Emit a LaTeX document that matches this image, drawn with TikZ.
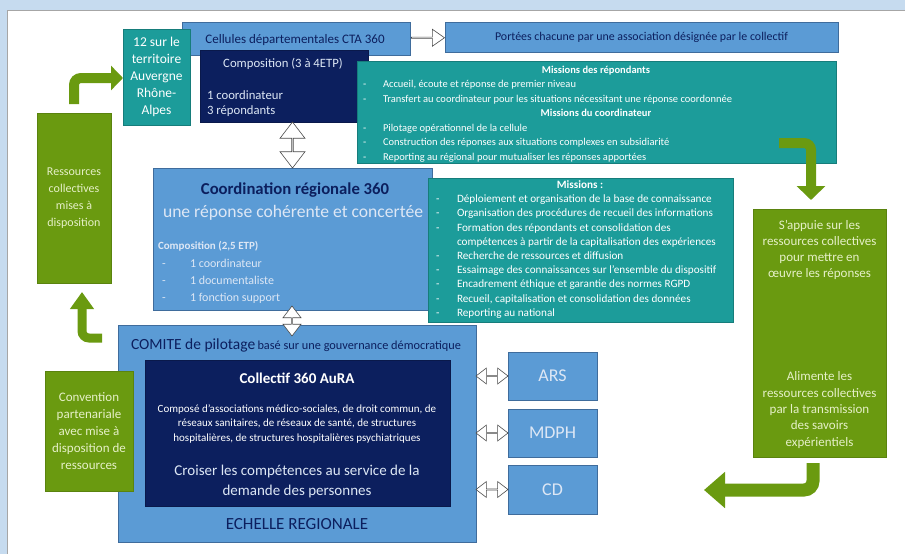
\documentclass[tikz,border=0pt]{standalone}
\usepackage{fontspec}
\setmainfont{Carlito}
\usetikzlibrary{shapes.arrows,arrows.meta,calc}
\definecolor{bluebox}{HTML}{5B9BD5}
\definecolor{blueedge}{HTML}{3F6C9C}
\definecolor{navy}{HTML}{0C1F5E}
\definecolor{teal360}{HTML}{1C9C9A}
\definecolor{green360}{HTML}{6A9A10}
\definecolor{greentxt}{HTML}{E6F0C8}
\definecolor{bluetxt}{HTML}{DDE7F5}
\definecolor{bandblue}{HTML}{C6DBEF}
\newcommand\fz[2]{\fontsize{#1pt}{#2pt}\selectfont}
\newcommand\dashline[5]{\node[ln] (#1d) at (#2,#4) {-}; \node[ln] (#1) at (#3,#4) {#5};}
\tikzset{
  box/.style={anchor=north west, inner sep=0pt, outer sep=0pt, line width=0.7pt, align=center},
  bluebx/.style={box, fill=bluebox, draw=blueedge},
  navybx/.style={box, fill=navy, draw=navy!80!black},
  tealbx/.style={box, fill=teal360, draw=teal360!80!black, text=white},
  greenbx/.style={box, fill=green360, draw=green360!85!black, text=greentxt},
  ln/.style={anchor=base west, inner sep=0pt, outer sep=0pt, text=white},
  hollow/.style={draw=gray!60!black, fill=white, line width=0.6pt, inner sep=0pt},
  garrow/.style={draw=green360, rounded corners=7pt},
}
\begin{document}
\begin{tikzpicture}[x=1pt,y=-1pt]
\useasboundingbox (0,0) rectangle (905,554);
\fill[bandblue] (0,0) rectangle (905,554);
\fill[white] (7,10) rectangle (905,554);
\draw[gray!70, line width=0.8pt] (7,554) -- (7,10) -- (905,10);

% ---------- top area
\node[bluebx, minimum width=228pt, minimum height=33pt] (cell) at (182,22) {};
\node[ln, anchor=base, text=navy, font=\fz{13}{15}] (cellt) at (295,43) {Cellules départementales CTA 360};
\node[tealbx, minimum width=67pt, minimum height=96pt, font=\fz{13.5}{17}] (n12) at (123,29) {12 sur le\\territoire\\Auvergne\\Rhône-\\Alpes};
\node[navybx, minimum width=168pt, minimum height=72pt] (comp) at (200,50) {};
\node[ln, anchor=base, text=bluetxt, font=\fz{12.7}{15}] (compt) at (283,67) {Composition (3 à 4ETP)};
\node[ln, text=bluetxt, font=\fz{12.7}{15}] (comp1) at (207,99) {1 coordinateur};
\node[ln, text=bluetxt, font=\fz{12.7}{15}] (comp2) at (207,114) {3 répondants};

\node[bluebx, minimum width=393pt, minimum height=30pt, text=navy, font=\fz{11.9}{14}] (portees) at (445,22) {Portées chacune par une association désignée par le collectif};

\node[tealbx, minimum width=479pt, minimum height=102pt] (miss1) at (357,61) {};
\begin{scope}[ln/.append style={font=\fz{10.5}{13}}]
\node[ln, anchor=base] (m1h1) at (596,73) {\bfseries Missions des répondants};
\dashline{m1a}{363}{383}{87.5}{Accueil, écoute et réponse de premier niveau}
\dashline{m1b}{363}{383}{102}{Transfert au coordinateur pour les situations nécessitant une réponse coordonnée}
\node[ln, anchor=base] (m1h2) at (596,116.5) {\bfseries Missions du coordinateur};
\dashline{m1c}{363}{383}{131}{Pilotage opérationnel de la cellule}
\dashline{m1e}{363}{383}{145.5}{Construction des réponses aux situations complexes en subsidiarité}
\dashline{m1f}{363}{383}{160}{Reporting au régional pour mutualiser les réponses apportées}
\end{scope}

% ---------- coordination
\node[bluebx, minimum width=279pt, minimum height=142pt] (coord) at (153,168) {};
\node[ln, anchor=base, text=navy, font=\fz{16.7}{18}\bfseries] (coordt) at (295,194) {Coordination régionale 360};
\node[ln, anchor=base, text=bluetxt, font=\fz{17.6}{19}] (coords) at (293,217) {une réponse cohérente et concertée};
\begin{scope}[ln/.append style={text=bluetxt, font=\fz{12}{14}}]
\node[ln] (coordc) at (158,249) {\fz{11}{13}\bfseries Composition (2,5 ETP)};
\dashline{c1}{162}{190}{267}{1 coordinateur}
\dashline{c2}{162}{190}{284}{1 documentaliste}
\dashline{c3}{162}{190}{301}{1 fonction support}
\end{scope}

\node[tealbx, minimum width=305pt, minimum height=144pt] (miss2) at (428,178) {};
\begin{scope}[ln/.append style={font=\fz{11.2}{13}}]
\node[ln, anchor=base] (m2h) at (580,188) {\bfseries Missions :};
\dashline{m2a}{436}{457}{202}{Déploiement et organisation de la base de connaissance}
\dashline{m2b}{436}{457}{216}{Organisation des procédures de recueil des informations}
\dashline{m2c}{436}{457}{231}{Formation des répondants et consolidation des}
\node[ln] (m2c2) at (457,245) {compétences à partir de la capitalisation des expériences};
\dashline{m2e}{436}{457}{259}{Recherche de ressources et diffusion}
\dashline{m2f}{436}{457}{273}{Essaimage des connaissances sur l’ensemble du dispositif}
\dashline{m2g}{436}{457}{287}{Encadrement éthique et garantie des normes RGPD}
\dashline{m2h}{436}{457}{302}{Recueil, capitalisation et consolidation des données}
\dashline{m2i}{436}{457}{316}{Reporting au national}
\end{scope}

% ---------- comite
\node[bluebx, minimum width=358pt, minimum height=217pt] (comite) at (118,325) {};
\node[ln, anchor=base, text=navy] (comitet) at (296,349) {{\fz{15.5}{17}COMITE de pilotage} {\fz{12.3}{14}basé sur une gouvernance démocratique}};
\node[navybx, minimum width=305pt, minimum height=146pt] (collectif) at (145,360) {};
\node[ln, anchor=base, text=white, font=\fz{15}{17}\bfseries] (collt) at (297,383) {Collectif 360 AuRA};
\node[ln, anchor=center, align=center, text=white, font=\fz{11}{14.5}] (colld) at (297,424) {Composé d’associations médico-sociales, de droit commun, de\\réseaux sanitaires, de réseaux de santé, de structures\\hospitalières, de structures hospitalières psychiatriques};
\node[ln, anchor=center, align=center, text=bluetxt, font=\fz{15}{20}] (collc) at (297,481) {Croiser les compétences au service de la\\demande des personnes};
\node[ln, anchor=base, text=navy, font=\fz{17}{19}] (echelle) at (297,529) {ECHELLE REGIONALE};

\node[greenbx, minimum width=88pt, minimum height=120pt, font=\fz{13}{17}] (conv) at (45,371) {Convention\\partenariale\\avec mise à\\disposition de\\ressources};

\node[bluebx, minimum width=89pt, minimum height=48pt, text=bluetxt, font=\fz{18}{20}] (ars) at (508,352) {ARS};
\node[bluebx, minimum width=89pt, minimum height=48pt, text=bluetxt, font=\fz{18}{20}] (mdph) at (508,409) {MDPH};
\node[bluebx, minimum width=89pt, minimum height=49pt, text=bluetxt, font=\fz{18}{20}] (cd) at (508,465) {CD};

% ---------- green side boxes
\node[greenbx, minimum width=74pt, minimum height=170pt, font=\fz{12}{17}] (leftg) at (37,113) {Ressources\\collectives\\mises à\\disposition};
\node[greenbx, minimum width=133pt, minimum height=248pt] (rightg) at (753,209) {};
\node[ln, anchor=center, align=center, text=greentxt, font=\fz{13}{16.3}] (rgt) at (819.5,250) {S’appuie sur les\\ressources collectives\\pour mettre en\\œuvre les réponses};
\node[ln, anchor=center, align=center, text=greentxt, font=\fz{13}{16.3}] (rgb) at (819.5,410) {Alimente les\\ressources collectives\\par la transmission\\des savoirs\\expérientiels};

% ---------- hollow arrows
\node[hollow, single arrow, minimum height=33pt, minimum width=17pt, single arrow head extend=3.5pt, single arrow tip angle=70] (a1) at ($(cell.east)!0.5!(portees.west)$) {};
\node[hollow, double arrow, rotate=90, minimum height=46pt, minimum width=25pt, double arrow head extend=5pt, double arrow tip angle=75] (a2) at ($(coord.north)!0.5!(coord.north |- comp.south)$) {};
\node[hollow, double arrow, rotate=90, minimum height=30pt, minimum width=18pt, double arrow head extend=4pt, double arrow tip angle=75] (a3) at (292,321) {};
\foreach \b in {ars,mdph,cd}{
  \node[hollow, double arrow, minimum height=32pt, minimum width=16pt, double arrow head extend=4pt, double arrow tip angle=75] (a\b) at ($(comite.east |- \b.west)!0.5!(\b.west)$) {};
}

% ---------- green bent arrows
\coordinate (g1s) at (74,104);
\coordinate (g1c) at (74,78);
\draw[garrow, line width=10pt, -{Triangle[length=12pt,width=24pt]}] (g1s) -- (g1c) -- (n12.west |- g1c);
\coordinate (g2s) at (102,338);
\coordinate (g2c) at (82,338);
\draw[garrow, line width=9pt, -{Triangle[length=17pt,width=23pt]}] (g2s) -- (g2c) -- ($(g2c |- leftg.south)+(0,9)$);
\coordinate (g3s) at (779,143);
\coordinate (g3c) at (811,143);
\draw[garrow, line width=10pt, -{Triangle[length=14pt,width=28pt]}] (g3s) -- (g3c) -- ($(g3c |- rightg.north)+(0,-9)$);
\coordinate (g4s) at (813,463);
\coordinate (g4c) at (813,490);
\draw[garrow, line width=13pt, rounded corners=9pt, -{Triangle[length=21pt,width=35pt]}] (g4s) -- (g4c) -- (704,490);
\end{tikzpicture}
\end{document}
